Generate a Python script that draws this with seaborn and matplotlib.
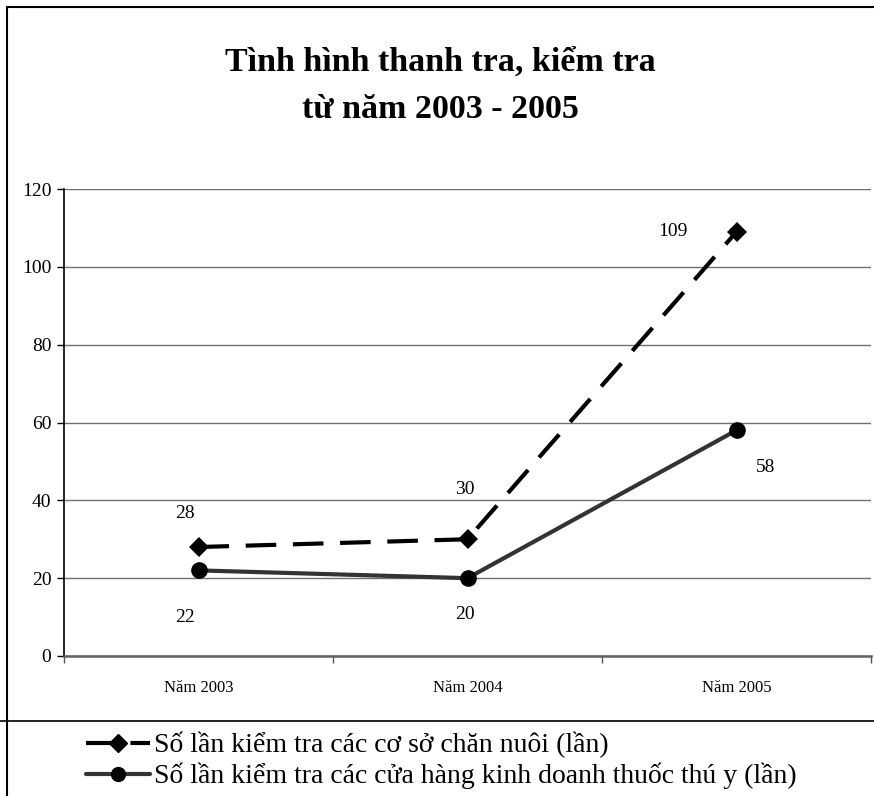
import pandas as pd
import matplotlib.pyplot as plt
import seaborn as sns
from matplotlib.lines import Line2D

# Data
years = ['Năm 2003', 'Năm 2004', 'Năm 2005']
co_so_chan_nuoi = [28, 30, 109]
cua_hang_thuoc = [22, 20, 58]
series_names = ['Số lần kiểm tra các cơ sở chăn nuôi (lần)',
                'Số lần kiểm tra các cửa hàng kinh doanh thuốc thú y (lần)']

pos = [i + 0.5 for i in range(len(years))]
df = pd.DataFrame({'pos': pos, 'Năm': years,
                   'chan_nuoi': co_so_chan_nuoi, 'thuoc': cua_hang_thuoc})

sns.set_theme(style='white')
plt.rcParams['font.family'] = ['Liberation Serif', 'DejaVu Serif']
plt.rcParams['lines.scale_dashes'] = False
plt.rcParams['text.color'] = 'black'
plt.rcParams['xtick.color'] = 'black'
plt.rcParams['ytick.color'] = 'black'

fig = plt.figure(figsize=(8.74, 7.96), dpi=100)
ax = fig.add_axes([64 / 874, 140 / 796, 807 / 874, 467 / 796])

# Series 1: dashed black with diamonds
sns.lineplot(data=df, x='pos', y='chan_nuoi', ax=ax, color='black',
             linewidth=3, marker='D', markersize=10, markeredgewidth=0,
             dashes=(22, 12), zorder=4)
# Series 2: solid dark gray with circles
sns.lineplot(data=df, x='pos', y='thuoc', ax=ax, color='#333333',
             linewidth=3, marker='o', markersize=12, markerfacecolor='black',
             markeredgewidth=0, zorder=4)

ax.set_xlim(0, 3)
ax.set_ylim(0, 120)
ax.set_yticks(range(0, 121, 20))
ax.set_xticks([0, 1, 2, 3])
ax.set_xticklabels([])
ax.set_xticks(pos, minor=True)
ax.set_xticklabels(years, minor=True, fontsize=12)
ax.tick_params(axis='x', which='minor', length=0, pad=17)
ax.tick_params(axis='x', which='major', length=5, width=1, color='#555555',
               direction='out', bottom=True)
ax.tick_params(axis='y', length=5, width=1, direction='out', left=True,
               labelsize=14, pad=4)
ax.set_xlabel('')
ax.set_ylabel('')
ax.yaxis.grid(True, color='#707070', linewidth=1)
ax.set_axisbelow(True)

for side in ['top', 'right']:
    ax.spines[side].set_visible(False)
ax.spines['left'].set_color('black')
ax.spines['left'].set_linewidth(1.2)
ax.spines['bottom'].set_color('#606060')
ax.spines['bottom'].set_linewidth(1.8)

# Data labels
offs1 = [(-10, 24), (-2, 36), (-46, 0)]
offs2 = [(-10, -34), (-2, -26), (21, -27)]
for p, v, o in zip(pos, co_so_chan_nuoi, offs1):
    ax.annotate(str(v), (p, v), xytext=o, textcoords='offset points',
                ha='center', va='center', fontsize=14)
for p, v, o in zip(pos, cua_hang_thuoc, offs2):
    ax.annotate(str(v), (p, v), xytext=o, textcoords='offset points',
                ha='center', va='center', fontsize=14)

# Title
fig.text(440 / 874, 1 - 71 / 796, 'Tình hình thanh tra, kiểm tra',
         ha='center', va='baseline', fontsize=24.5, fontweight='bold')
fig.text(440 / 874, 1 - 118 / 796, 'từ năm 2003 - 2005',
         ha='center', va='baseline', fontsize=24.5, fontweight='bold')

# Frame lines
fig.add_artist(Line2D([7 / 874, 7 / 874], [0, 1 - 7 / 796], color='black',
                      linewidth=1.5, transform=fig.transFigure))
fig.add_artist(Line2D([7 / 874, 1], [1 - 7 / 796, 1 - 7 / 796], color='black',
                      linewidth=1.5, transform=fig.transFigure))
fig.add_artist(Line2D([0, 1], [1 - 721 / 796, 1 - 721 / 796], color='black',
                      linewidth=1.2, transform=fig.transFigure))

# Legend
h1 = Line2D([], [], color='black', linewidth=3, marker='D', markersize=9,
            dashes=(20, 12))
h2 = Line2D([], [], color='#333333', linewidth=3, marker='o', markersize=11,
            markerfacecolor='black', markeredgewidth=0)
fig.legend([h1, h2], series_names, loc='upper left',
           bbox_to_anchor=(86 / 874, 1 - 732 / 796), frameon=False,
           fontsize=20, handlelength=2.3, handletextpad=0.15,
           labelspacing=0.16, borderpad=0, borderaxespad=0)

fig.savefig('out.png', dpi=100)
